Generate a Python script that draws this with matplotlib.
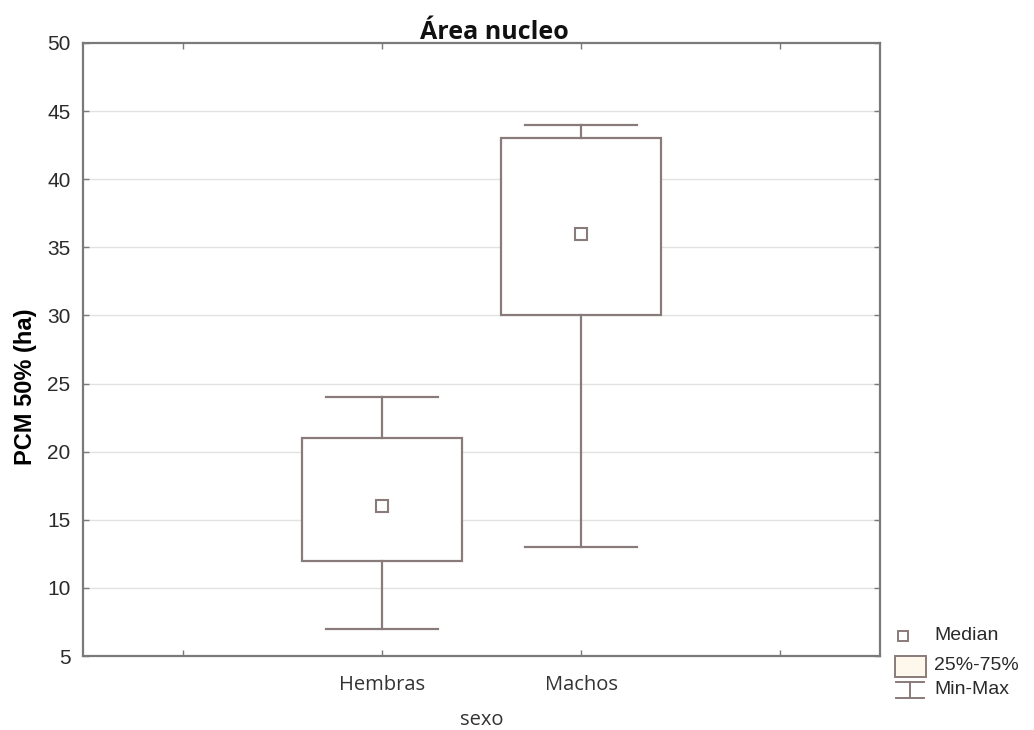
import matplotlib.pyplot as plt
from matplotlib.patches import Rectangle

# summary statistics per group
groups = ["Hembras", "Machos"]
mins = [7, 13]
q1s = [12, 30]
medians = [16, 36]
q3s = [21, 43]
maxs = [24, 44]

yticks = [5, 10, 15, 20, 25, 30, 35, 40, 45, 50]

edge = "#8a7b7b"
spine = "#7a7a7a"
grid = "#e2e2e2"

fig = plt.figure(figsize=(10.34, 7.3), dpi=100)
ax = fig.add_axes([83 / 1034, 74 / 730, 797 / 1034, 613 / 730])

positions = [1, 2]
box_w = 0.4
cap_w = 0.28
for x, lo, a, m, b, hi in zip(positions, mins, q1s, medians, q3s, maxs):
    ax.add_patch(Rectangle((x - box_w, a), 2 * box_w, b - a, facecolor="white",
                           edgecolor=edge, linewidth=1.6, zorder=3))
    ax.plot([x, x], [b, hi], color=edge, lw=1.6, zorder=3)
    ax.plot([x, x], [lo, a], color=edge, lw=1.6, zorder=3)
    ax.plot([x - cap_w, x + cap_w], [hi, hi], color=edge, lw=1.6, zorder=3)
    ax.plot([x - cap_w, x + cap_w], [lo, lo], color=edge, lw=1.6, zorder=3)
    ax.plot([x], [m], marker="s", markersize=8, markerfacecolor="white",
            markeredgecolor=edge, markeredgewidth=1.5, zorder=4)

ax.set_xlim(-0.5, 3.5)
ax.set_ylim(5, 50)
ax.set_xticks([0, 1, 2, 3])
ax.set_xticklabels(["", groups[0], groups[1], ""], fontsize=14.5,
                   family="Open Sans", color="#333333")
ax.set_yticks(yticks)
ax.set_yticklabels([str(t) for t in yticks], fontsize=15,
                   family="Liberation Sans", color="#2a2a2a")
for y in yticks[1:-1]:
    ax.axhline(y, color=grid, lw=1, zorder=1)

ax.tick_params(direction="in", length=4, width=1, color=spine,
               top=True, right=True)
ax.tick_params(axis="y", pad=9)
ax.tick_params(axis="x", pad=14)
for s in ax.spines.values():
    s.set_color(spine)
    s.set_linewidth(1.6)

ax.set_title("Área nucleo", fontsize=18, fontweight="bold",
             family="Open Sans", color="#111111", pad=3, x=0.516)
ax.set_ylabel("PCM 50% (ha)", fontsize=17, fontweight="bold",
              family="Liberation Sans")
ax.yaxis.set_label_coords(-0.058, 0.44)
ax.set_xlabel("sexo", fontsize=14.5, family="Open Sans", color="#333333")
ax.xaxis.set_label_coords(0.5, -0.088)

# legend drawn in pixel space
lg = fig.add_axes([0, 0, 1, 1], facecolor="none")
lg.set_xlim(0, 1034)
lg.set_ylim(730, 0)
lg.axis("off")
lg.plot([903], [636], marker="s", markersize=7.5, markerfacecolor="white",
        markeredgecolor=edge, markeredgewidth=1.4)
lg.add_patch(Rectangle((895, 656), 31, 21, facecolor="#fdf7ec",
                       edgecolor=edge, linewidth=1.4))
lg.plot([896, 924], [682, 682], color=edge, lw=1.4)
lg.plot([910, 910], [682, 698], color=edge, lw=1.4)
lg.plot([896, 924], [698, 698], color=edge, lw=1.4)
for ty, txt in [(636, "Median"), (665, "25%-75%"), (690, "Min-Max")]:
    lg.text(934, ty, txt, fontsize=14, family="Liberation Sans",
            color="#2a2a2a", va="center", ha="left")

fig.savefig("out.png", dpi=100)
